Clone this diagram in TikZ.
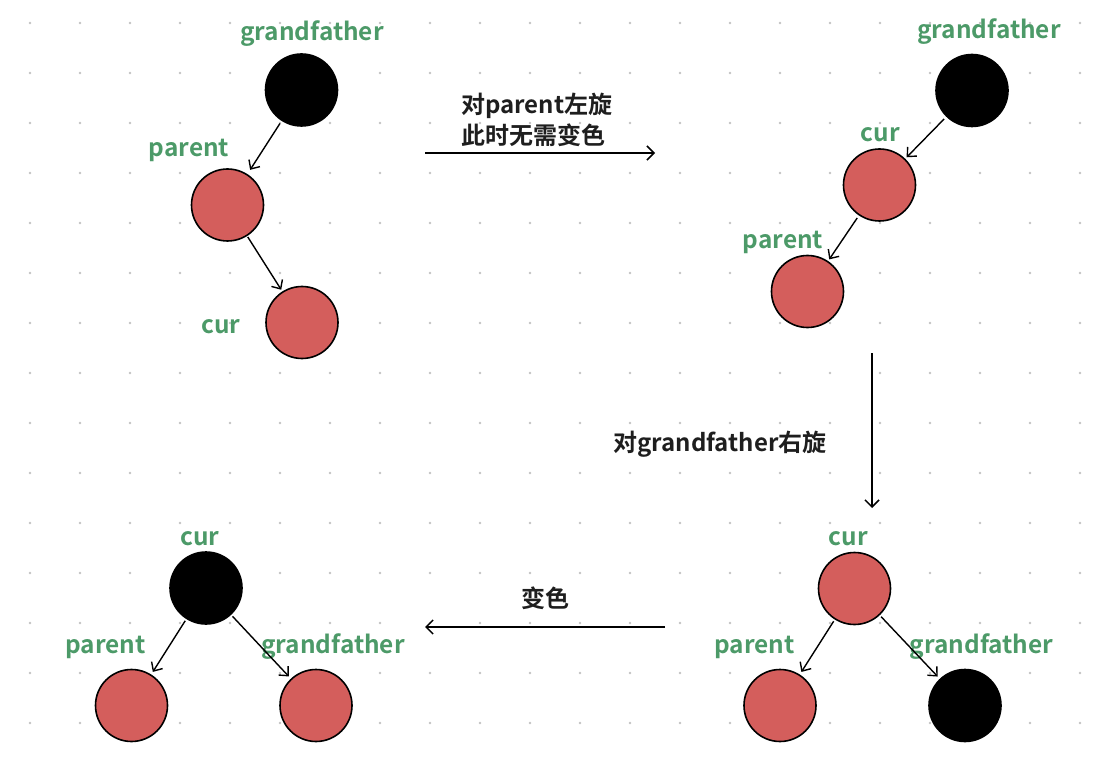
\documentclass[tikz,border=0pt]{standalone}
\usepackage{fontspec}
\setmainfont{Noto Sans CJK SC}[BoldFont={* Bold}]
\newfontfamily\cjkb{Noto Sans CJK SC Bold}
\usetikzlibrary{arrows.meta}
\definecolor{rbred}{RGB}{212,94,92}
\definecolor{lblgreen}{RGB}{76,154,104}
\definecolor{txtdark}{RGB}{30,30,30}
\definecolor{dotgray}{RGB}{195,195,195}
\tikzset{
  rnode/.style={circle, draw=black, line width=1.6pt, fill=rbred, minimum size=72pt, inner sep=0pt},
  bnode/.style={circle, draw=black, line width=1.6pt, fill=black, minimum size=72pt, inner sep=0pt},
  lbl/.style={text=lblgreen, font=\cjkb\fontsize{24.4}{29}\selectfont, inner sep=0pt},
  note/.style={text=txtdark, font=\cjkb\fontsize{24}{31}\selectfont, inner sep=0pt, align=left},
  arr/.style={draw=black, line width=1.4pt, -{Straight Barb[length=7pt,width=13pt,line width=1.4pt]}},
  tarr/.style={draw=black, line width=1.5pt, -{Straight Barb[length=7pt,width=14pt,line width=1.5pt]}}
}
\begin{document}
\begin{tikzpicture}[x=1pt,y=-1pt]
\useasboundingbox (0,0) rectangle (1111,767);
\fill[white] (0,0) rectangle (1111,767);
\foreach \i in {0,...,21}{\foreach \j in {0,...,14}{\fill[dotgray] (30+50*\i,23+50*\j) circle (1.4pt);}}
% panel 1
\node[bnode] (g1) at (301.5,90) {};
\node[rnode] (p1) at (227.5,205) {};
\node[rnode] (c1) at (302,322.5) {};
\node[lbl] (lg1) at (312,34) {grandfather};
\node[lbl] (lp1) at (189,150) {parent};
\node[lbl] (lc1) at (221,327) {cur};
\draw[arr, shorten <=3pt, shorten >=5pt] (g1) -- (p1);
\draw[arr, shorten <=1pt, shorten >=2pt] (p1) -- (c1);
% panel 2
\node[bnode] (g2) at (972,90.5) {};
\node[rnode] (c2) at (879.5,185) {};
\node[rnode] (p2) at (807.5,291.5) {};
\node[lbl] (lg2) at (989,32) {grandfather};
\node[lbl] (lc2) at (880.5,135) {cur};
\node[lbl] (lp2) at (783,242) {parent};
\draw[arr, shorten <=3pt, shorten >=2pt] (g2) -- (c2);
\draw[arr, shorten <=3pt, shorten >=2pt] (c2) -- (p2);
% panel 3
\node[rnode] (c3) at (854.5,588.5) {};
\node[rnode] (p3) at (780,705.5) {};
\node[bnode] (g3) at (965,705.5) {};
\node[lbl] (lc3) at (848.5,539) {cur};
\node[lbl] (lp3) at (754.5,647) {parent};
\node[lbl] (lg3) at (981.5,647) {grandfather};
\draw[arr, shorten <=2pt, shorten >=3pt] (c3) -- (p3);
\draw[arr, shorten <=2pt, shorten >=3pt] (c3) -- (g3);
% panel 4
\node[bnode] (c4) at (206,588) {};
\node[rnode] (p4) at (131.5,705.5) {};
\node[rnode] (g4) at (316,705.5) {};
\node[lbl] (lc4) at (200,539) {cur};
\node[lbl] (lp4) at (105.5,647) {parent};
\node[lbl] (lg4) at (333,647) {grandfather};
\draw[arr, shorten <=2pt, shorten >=3pt] (c4) -- (p4);
\draw[arr, shorten <=2pt, shorten >=3pt] (c4) -- (g4);
% transitions
\coordinate (t1a) at (425,153);
\coordinate (t1b) at (655,153);
\draw[tarr] (t1a) -- (t1b);
\node[note, anchor=south west] (n1) at (461,147) {对parent左旋\\此时无需变色};
\coordinate (t2a) at (872,353);
\coordinate (t2b) at (872,508);
\draw[tarr] (t2a) -- (t2b);
\node[note] (n2) at (720,444) {对grandfather右旋};
\coordinate (t3a) at (665,627);
\coordinate (t3b) at (425,627);
\draw[tarr] (t3a) -- (t3b);
\node[note] (n3) at (545,598) {变色};
\end{tikzpicture}
\end{document}
